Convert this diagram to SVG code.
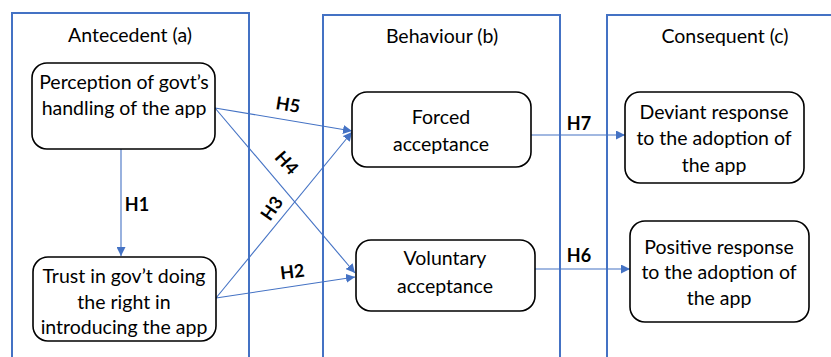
<svg xmlns="http://www.w3.org/2000/svg" width="831" height="357" viewBox="0 0 831 357">
<style>
.panel{fill:none;stroke:#4472C4;stroke-width:2}
.node{fill:#fff;stroke:#000;stroke-width:1.6}
text{font-family:Lato,"Open Sans","Liberation Sans",sans-serif;font-size:19.5px;fill:#000;text-anchor:middle}
.hd{font-size:19.5px}
.lb{font-weight:bold;font-size:18px}
.edge{stroke:#4472C4;stroke-width:1.1;fill:none;marker-end:url(#ah)}
</style>
<defs>
<marker id="ah" viewBox="0 0 10 10" refX="10" refY="5" markerWidth="9" markerHeight="9" markerUnits="userSpaceOnUse" orient="auto">
<path d="M0,0 L10,5 L0,10 z" fill="#4472C4"/>
</marker>
</defs>
<g id="panels">
<rect class="panel" x="12" y="13" width="237" height="360"/>
<rect class="panel" x="323" y="15" width="237" height="360"/>
<rect class="panel" x="607" y="15" width="240" height="360"/>
<text class="hd" x="130" y="42">Antecedent (a)</text>
<text class="hd" x="442" y="43">Behaviour (b)</text>
<text class="hd" x="725" y="43">Consequent (c)</text>
</g>
<g id="connectors">
<line class="edge" x1="121" y1="149" x2="121" y2="256"/>
<line class="edge" x1="215" y1="108" x2="352" y2="131"/>
<line class="edge" x1="215" y1="108" x2="355" y2="273"/>
<line class="edge" x1="216" y1="298" x2="352" y2="132"/>
<line class="edge" x1="216" y1="298" x2="355" y2="277"/>
<line class="edge" x1="531" y1="135" x2="625" y2="135"/>
<line class="edge" x1="535" y1="269" x2="630" y2="269"/>
<text class="lb" x="137" y="211">H1</text>
<text class="lb" transform="translate(287,111) rotate(9)">H5</text>
<text class="lb" transform="translate(282,167) rotate(48)">H4</text>
<text class="lb" transform="translate(277,212) rotate(-55)">H3</text>
<text class="lb" transform="translate(293,278) rotate(-7)">H2</text>
<text class="lb" x="579" y="130">H7</text>
<text class="lb" x="579" y="262">H6</text>
</g>
<g id="n-perception">
<rect class="node" x="32" y="63" width="183" height="86" rx="15"/>
<text x="124" y="89">Perception of govt’s</text>
<text x="124" y="115">handling of the app</text>
</g>
<g id="n-trust">
<rect class="node" x="33" y="257" width="183" height="84" rx="15"/>
<text x="124" y="283">Trust in gov’t doing</text>
<text x="124" y="309">the right in</text>
<text x="124" y="334">introducing the app</text>
</g>
<g id="n-forced">
<rect class="node" x="352" y="92" width="179" height="75" rx="15"/>
<text x="441" y="124">Forced</text>
<text x="441" y="151">acceptance</text>
</g>
<g id="n-voluntary">
<rect class="node" x="356" y="240" width="179" height="71" rx="15"/>
<text x="445" y="265">Voluntary</text>
<text x="445" y="293">acceptance</text>
</g>
<g id="n-deviant">
<rect class="node" x="625" y="92" width="179" height="91" rx="15"/>
<text x="714" y="119">Deviant response</text>
<text x="714" y="145">to the adoption of</text>
<text x="714" y="172">the app</text>
</g>
<g id="n-positive">
<rect class="node" x="630" y="221" width="179" height="101" rx="15"/>
<text x="719" y="254">Positive response</text>
<text x="719" y="279">to the adoption of</text>
<text x="719" y="305">the app</text>
</g>
</svg>
